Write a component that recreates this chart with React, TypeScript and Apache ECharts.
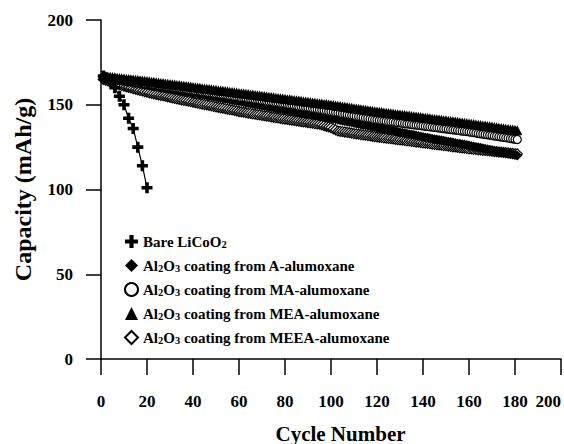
import React, { useEffect, useRef } from "react";
import * as echarts from "echarts";

// ---------- data ----------
const BARE_CYCLES = [1, 2, 4, 6, 8, 10, 12, 14, 16, 18, 20];
const BARE_VALUES = [167, 166, 164, 160, 155, 150, 142, 136, 125, 114, 101];

const COATED_CYCLES = Array.from({ length: 181 }, (_, i) => i + 1);

const A_VALUES = [
  166.0, 165.8, 165.5, 165.3, 165.1, 164.8, 164.6, 164.3, 164.1, 163.9,
  163.6, 163.4, 163.2, 162.9, 162.7, 162.4, 162.2, 162.0, 161.7, 161.5,
  161.3, 161.1, 160.8, 160.6, 160.4, 160.1, 159.9, 159.7, 159.5, 159.3,
  159.0, 158.8, 158.6, 158.3, 158.1, 157.9, 157.7, 157.4, 157.2, 157.0,
  156.7, 156.5, 156.2, 156.0, 155.7, 155.5, 155.2, 155.0, 154.7, 154.5,
  154.2, 154.0, 153.7, 153.5, 153.2, 153.0, 152.7, 152.5, 152.2, 152.0,
  151.7, 151.5, 151.2, 151.0, 150.7, 150.5, 150.2, 150.0, 149.7, 149.5,
  149.2, 149.0, 148.7, 148.5, 148.2, 148.0, 147.7, 147.5, 147.2, 147.0,
  146.7, 146.5, 146.2, 146.0, 145.7, 145.5, 145.2, 145.0, 144.7, 144.5,
  144.2, 144.0, 143.7, 143.5, 143.2, 143.0, 142.7, 142.5, 142.2, 142.0,
  141.7, 141.4, 141.2, 140.9, 140.6, 140.3, 140.1, 139.8, 139.5, 139.2,
  139.0, 138.7, 138.4, 138.1, 137.9, 137.6, 137.3, 137.0, 136.8, 136.5,
  136.2, 135.9, 135.7, 135.4, 135.1, 134.8, 134.6, 134.3, 134.0, 133.7,
  133.5, 133.2, 132.9, 132.6, 132.4, 132.1, 131.8, 131.5, 131.3, 131.0,
  130.7, 130.5, 130.2, 130.0, 129.7, 129.5, 129.2, 129.0, 128.7, 128.5,
  128.2, 128.0, 127.7, 127.5, 127.2, 127.0, 126.7, 126.5, 126.2, 126.0,
  125.7, 125.4, 125.1, 124.9, 124.6, 124.3, 124.0, 123.7, 123.4, 123.1,
  122.9, 122.6, 122.3, 122.0, 121.7, 121.4, 121.1, 120.9, 120.6, 120.3,
  120.0,
];

const MA_VALUES = [
  166.0, 165.8, 165.6, 165.5, 165.3, 165.1, 164.9, 164.7, 164.5, 164.3,
  164.2, 164.0, 163.8, 163.6, 163.4, 163.2, 163.1, 162.9, 162.7, 162.5,
  162.3, 162.1, 161.9, 161.7, 161.5, 161.3, 161.1, 160.9, 160.7, 160.5,
  160.3, 160.1, 159.9, 159.7, 159.5, 159.3, 159.1, 158.9, 158.7, 158.5,
  158.3, 158.1, 157.9, 157.7, 157.5, 157.3, 157.1, 156.9, 156.7, 156.5,
  156.3, 156.1, 155.9, 155.7, 155.5, 155.3, 155.1, 154.9, 154.7, 154.5,
  154.3, 154.1, 153.9, 153.7, 153.5, 153.3, 153.1, 152.9, 152.7, 152.5,
  152.3, 152.1, 151.9, 151.7, 151.5, 151.3, 151.1, 150.9, 150.7, 150.5,
  150.3, 150.0, 149.8, 149.6, 149.4, 149.1, 148.9, 148.7, 148.5, 148.2,
  148.0, 147.8, 147.5, 147.3, 147.1, 146.9, 146.6, 146.4, 146.2, 146.0,
  145.7, 145.5, 145.2, 145.0, 144.7, 144.5, 144.2, 144.0, 143.7, 143.5,
  143.2, 143.0, 142.7, 142.5, 142.2, 142.0, 141.7, 141.5, 141.2, 141.0,
  140.8, 140.7, 140.5, 140.3, 140.1, 140.0, 139.8, 139.6, 139.4, 139.3,
  139.1, 138.9, 138.7, 138.6, 138.4, 138.2, 138.0, 137.9, 137.7, 137.5,
  137.3, 137.2, 137.0, 136.8, 136.6, 136.5, 136.3, 136.1, 135.9, 135.8,
  135.6, 135.4, 135.2, 135.1, 134.9, 134.7, 134.5, 134.4, 134.2, 134.0,
  133.8, 133.6, 133.4, 133.1, 132.9, 132.7, 132.5, 132.3, 132.1, 131.9,
  131.6, 131.4, 131.2, 131.0, 130.8, 130.6, 130.4, 130.1, 129.9, 129.7,
  129.5,
];

const MEA_VALUES = [
  167.0, 166.9, 166.6, 166.5, 166.3, 166.2, 166.0, 165.8, 165.7, 165.5,
  165.4, 165.2, 165.0, 164.9, 164.7, 164.6, 164.4, 164.3, 164.1, 164.0,
  163.8, 163.6, 163.5, 163.3, 163.1, 162.9, 162.8, 162.6, 162.4, 162.3,
  162.1, 161.9, 161.7, 161.6, 161.4, 161.2, 161.0, 160.9, 160.7, 160.5,
  160.3, 160.2, 160.0, 159.8, 159.6, 159.5, 159.3, 159.1, 158.9, 158.8,
  158.6, 158.4, 158.2, 158.1, 157.9, 157.7, 157.5, 157.4, 157.2, 157.0,
  156.8, 156.7, 156.5, 156.3, 156.1, 156.0, 155.8, 155.6, 155.4, 155.3,
  155.1, 154.9, 154.7, 154.6, 154.4, 154.2, 154.0, 153.9, 153.7, 153.5,
  153.3, 153.2, 153.0, 152.8, 152.6, 152.5, 152.3, 152.1, 151.9, 151.8,
  151.6, 151.4, 151.2, 151.1, 150.9, 150.7, 150.5, 150.4, 150.2, 150.0,
  149.8, 149.6, 149.4, 149.2, 149.0, 148.8, 148.6, 148.4, 148.2, 148.0,
  147.8, 147.6, 147.4, 147.2, 147.0, 146.8, 146.6, 146.4, 146.2, 146.0,
  145.8, 145.7, 145.5, 145.3, 145.1, 145.0, 144.8, 144.6, 144.4, 144.3,
  144.1, 143.9, 143.7, 143.6, 143.4, 143.2, 143.0, 142.9, 142.7, 142.5,
  142.3, 142.2, 142.0, 141.8, 141.6, 141.5, 141.3, 141.1, 140.9, 140.8,
  140.6, 140.4, 140.2, 140.1, 139.9, 139.7, 139.5, 139.4, 139.2, 139.0,
  138.8, 138.6, 138.4, 138.2, 138.0, 137.8, 137.7, 137.5, 137.3, 137.1,
  136.9, 136.7, 136.5, 136.3, 136.1, 135.9, 135.7, 135.5, 135.4, 135.2,
  135.0,
];

const MEEA_VALUES = [
  165.0, 164.5, 164.1, 163.6, 163.2, 162.8, 162.3, 161.9, 161.4, 161.0,
  160.6, 160.3, 159.9, 159.5, 159.2, 158.8, 158.5, 158.1, 157.7, 157.4,
  157.0, 156.7, 156.4, 156.1, 155.8, 155.5, 155.3, 155.0, 154.7, 154.4,
  154.1, 153.8, 153.5, 153.2, 152.9, 152.6, 152.4, 152.1, 151.8, 151.5,
  151.2, 150.9, 150.7, 150.4, 150.1, 149.9, 149.6, 149.3, 149.0, 148.8,
  148.5, 148.2, 148.0, 147.7, 147.4, 147.1, 146.9, 146.6, 146.3, 146.0,
  145.8, 145.6, 145.3, 145.1, 144.9, 144.6, 144.4, 144.2, 144.0, 143.7,
  143.5, 143.3, 143.1, 142.8, 142.6, 142.4, 142.2, 141.9, 141.7, 141.5,
  141.3, 141.1, 140.9, 140.7, 140.5, 140.3, 140.1, 139.9, 139.7, 139.5,
  139.3, 139.1, 138.9, 138.7, 138.5, 138.1, 137.7, 137.3, 136.9, 136.5,
  135.8, 135.2, 134.5, 134.3, 134.1, 133.9, 133.7, 133.5, 133.2, 133.0,
  132.8, 132.6, 132.4, 132.2, 132.0, 131.8, 131.6, 131.4, 131.2, 131.0,
  130.8, 130.7, 130.5, 130.3, 130.1, 130.0, 129.8, 129.6, 129.4, 129.3,
  129.1, 128.9, 128.7, 128.6, 128.4, 128.2, 128.0, 127.9, 127.7, 127.5,
  127.3, 127.2, 127.0, 126.8, 126.6, 126.5, 126.3, 126.1, 125.9, 125.8,
  125.6, 125.4, 125.2, 125.1, 124.9, 124.7, 124.5, 124.4, 124.2, 124.0,
  123.9, 123.7, 123.6, 123.4, 123.3, 123.1, 123.0, 122.9, 122.7, 122.6,
  122.4, 122.3, 122.1, 122.0, 121.9, 121.7, 121.6, 121.4, 121.3, 121.1,
  121.0,
];

const NAME_BARE = "Bare LiCoO2";
const NAME_A = "Al2O3 coating from A-alumoxane";
const NAME_MA = "Al2O3 coating from MA-alumoxane";
const NAME_MEA = "Al2O3 coating from MEA-alumoxane";
const NAME_MEEA = "Al2O3 coating from MEEA-alumoxane";

const X_TICKS = { min: 0, max: 200, interval: 20 };
const Y_TICKS = { min: 0, max: 200, interval: 50 };

// ---------- styles ----------
const FONT = "'Liberation Serif', 'Times New Roman', serif";
const CROSS = "path://M3.4,0H6.6V3.4H10V6.6H6.6V10H3.4V6.6H0V3.4H3.4Z";

const pairs = (xs: number[], ys: number[]) => ys.map((y, i) => [xs[i], y]);

function legendLabel(name: string): string {
  if (name === NAME_BARE) return "{n|Bare LiCoO}{s|2}";
  const rest = name.replace("Al2O3", "");
  return "{n|Al}{s|2}{n|O}{s|3}{n|" + rest + "}";
}

export default function App() {
  const ref = useRef<HTMLDivElement>(null);

  useEffect(() => {
    if (!ref.current) return;
    const chart = echarts.init(ref.current, null, { renderer: "svg" });

    const filled = { color: "#000" };
    const open = { color: "#fff", borderColor: "#000", borderWidth: 1.2 };
    const line = { color: "#000", width: 1 };

    const axisCommon = {
      axisLine: { show: true, onZero: true, lineStyle: { color: "#000", width: 1.5 } },
      axisTick: { show: true, inside: false, lineStyle: { color: "#000", width: 1.5 } },
      splitLine: { show: false },
    };

    chart.setOption({
      animation: false,
      backgroundColor: "#fff",
      grid: {
        left: 101,
        right: 3,
        top: 20,
        bottom: 85,
        containLabel: false,
        outerBoundsMode: "none",
      },
      xAxis: {
        type: "value",
        ...X_TICKS,
        ...axisCommon,
        axisTick: { ...axisCommon.axisTick, length: 16 },
        axisLabel: {
          margin: 34,
          color: "#000",
          fontFamily: FONT,
          fontWeight: "bold",
          fontSize: 17,
          alignMaxLabel: "right",
        },
        name: "Cycle Number",
        nameLocation: "middle",
        nameGap: 64,
        nameTextStyle: {
          color: "#000",
          fontFamily: FONT,
          fontWeight: "bold",
          fontSize: 21,
          padding: [0, 0, 0, 19],
        },
      },
      yAxis: {
        type: "value",
        ...Y_TICKS,
        ...axisCommon,
        axisTick: { ...axisCommon.axisTick, length: 15 },
        axisLabel: {
          margin: 28,
          color: "#000",
          fontFamily: FONT,
          fontWeight: "bold",
          fontSize: 17,
        },
        name: "Capacity (mAh/g)",
        nameLocation: "middle",
        nameGap: 66,
        nameTextStyle: {
          color: "#000",
          fontFamily: FONT,
          fontWeight: "bold",
          fontSize: 24,
        },
      },
      legend: {
        orient: "vertical",
        left: 119,
        top: 229,
        itemWidth: 13,
        itemHeight: 13,
        itemGap: 8,
        selectedMode: false,
        data: [
          { name: NAME_BARE, icon: CROSS },
          { name: NAME_A, icon: "diamond" },
          { name: NAME_MA, icon: "circle" },
          { name: NAME_MEA, icon: "triangle" },
          { name: NAME_MEEA, icon: "diamond" },
        ],
        formatter: legendLabel,
        textStyle: {
          color: "#000",
          rich: {
            n: {
              fontFamily: FONT,
              fontWeight: "bold",
              fontSize: 15,
              lineHeight: 17,
              color: "#000",
            },
            s: {
              fontFamily: FONT,
              fontWeight: "bold",
              fontSize: 10.5,
              lineHeight: 10,
              verticalAlign: "bottom",
              color: "#000",
            },
          },
        },
      },
      series: [
        {
          name: NAME_MEEA,
          type: "line",
          data: pairs(COATED_CYCLES, MEEA_VALUES),
          symbol: "diamond",
          symbolSize: 10,
          itemStyle: open,
          lineStyle: line,
        },
        {
          name: NAME_A,
          type: "line",
          data: pairs(COATED_CYCLES, A_VALUES),
          symbol: "diamond",
          symbolSize: 10,
          itemStyle: filled,
          lineStyle: line,
        },
        {
          name: NAME_MA,
          type: "line",
          data: pairs(COATED_CYCLES, MA_VALUES),
          symbol: "circle",
          symbolSize: 8,
          itemStyle: open,
          lineStyle: line,
        },
        {
          name: NAME_MEA,
          type: "line",
          data: pairs(COATED_CYCLES, MEA_VALUES),
          symbol: "triangle",
          symbolSize: 10,
          itemStyle: filled,
          lineStyle: line,
        },
        {
          name: NAME_BARE,
          type: "line",
          data: pairs(BARE_CYCLES, BARE_VALUES),
          symbol: CROSS,
          symbolSize: 11,
          itemStyle: filled,
          lineStyle: { color: "#000", width: 1.2 },
        },
      ],
    });

    return () => chart.dispose();
  }, []);

  return (
    <div
      ref={ref}
      style={{ position: "absolute", left: 0, top: 0, width: 564, height: 444 }}
    />
  );
}
